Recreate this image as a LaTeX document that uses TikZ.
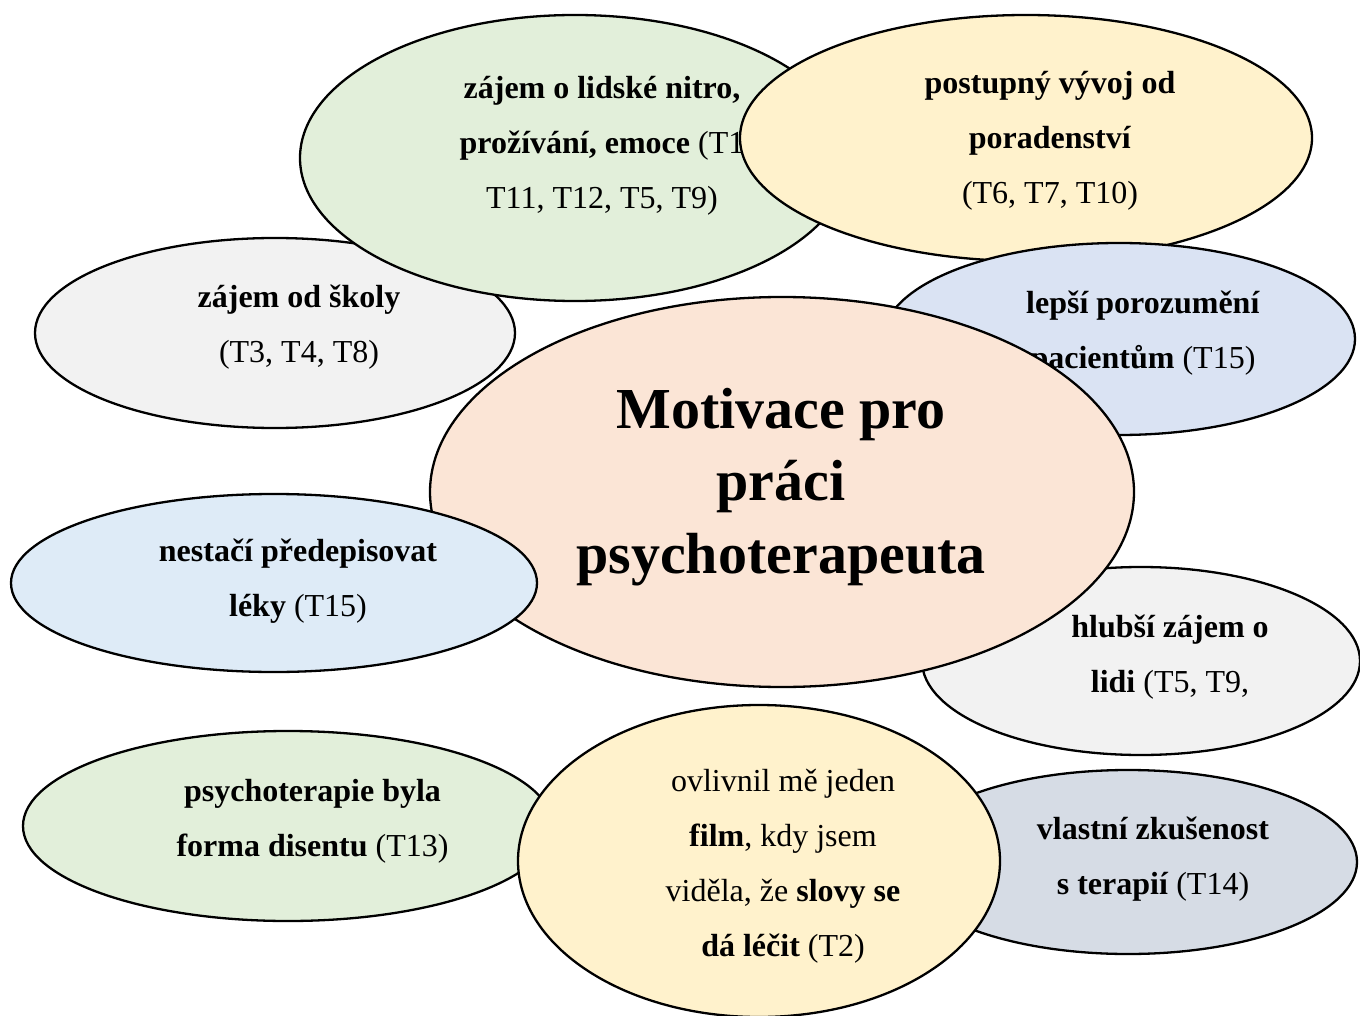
\documentclass[tikz,border=0pt]{standalone}
\usepackage{fontspec}
\setmainfont{Liberation Serif}
\usetikzlibrary{shapes.geometric}
\definecolor{cpeach}{HTML}{FBE5D6}
\definecolor{cgreen}{HTML}{E2EFDA}
\definecolor{cyellow}{HTML}{FFF2CC}
\definecolor{cgray}{HTML}{F2F2F2}
\definecolor{cblue}{HTML}{DEEBF7}
\definecolor{cblueb}{HTML}{DAE3F3}
\definecolor{cslate}{HTML}{D6DCE5}
\tikzset{
  bub/.style={ellipse, draw=black, line width=1.15pt, inner sep=0pt, outer sep=0pt},
  txt/.style={align=center, inner sep=0pt, font=\fontsize{16}{27.5}\selectfont},
  ttl/.style={align=center, inner sep=0pt, font=\fontsize{29}{36.2}\selectfont\bfseries}
}
\begin{document}
\begin{tikzpicture}[x=0.5pt,y=-0.5pt]
\useasboundingbox[fill=white] (0,0) rectangle (1360,1016);
% zajem od skoly
\node[bub, fill=cgray, minimum width=240pt, minimum height=95pt] (e1) at (275,333) {};
\node[txt] (t1) at (299,327.5) {\textbf{zájem od školy}\\(T3, T4, T8)};
% nitro
\node[bub, fill=cgreen, minimum width=275pt, minimum height=143pt] (e2) at (575,158) {};
\node[txt] (t2) at (602,146) {\textbf{zájem o lidské nitro,}\\\textbf{prožívání, emoce} (T1\hspace*{4pt}\\T11, T12, T5, T9)};
% postupny
\node[bub, fill=cyellow, minimum width=286pt, minimum height=123pt] (e3) at (1026,138) {};
\node[txt] (t3) at (1050,141) {\textbf{postupný vývoj od}\\\textbf{poradenství}\\(T6, T7, T10)};
% lepsi
\node[bub, fill=cblueb, minimum width=236pt, minimum height=96pt] (e4) at (1119,339) {};
\node[txt] (t4) at (1143,333.5) {\textbf{lepší porozumění}\\\textbf{pacientům} (T15)};
% hlubsi
\node[bub, fill=cgray, minimum width=219pt, minimum height=94pt] (e5) at (1141,661) {};
\node[txt] (t5) at (1170,657) {\textbf{hlubší zájem o}\\\textbf{lidi} (T5, T9,};
% center
\node[bub, fill=cpeach, minimum width=352pt, minimum height=195pt] (e0) at (782,492) {};
\node[ttl] (t0) at (781,487) {Motivace pro\\práci\\psychoterapeuta};
% nestaci
\node[bub, fill=cblue, minimum width=263pt, minimum height=89pt] (e6) at (274,583) {};
\node[txt] (t6) at (298,581.5) {\textbf{nestačí předepisovat}\\\textbf{léky} (T15)};
% psychoterapie byla
\node[bub, fill=cgreen, minimum width=265pt, minimum height=95pt] (e7) at (288,826) {};
\node[txt] (t7) at (312.5,821.5) {\textbf{psychoterapie byla}\\\textbf{forma disentu} (T13)};
% vlastni
\node[bub, fill=cslate, minimum width=229pt, minimum height=92pt] (e8) at (1128,862) {};
\node[txt] (t8) at (1153,859.5) {\textbf{vlastní zkušenost}\\\textbf{s terapií} (T14)};
% ovlivnil
\node[bub, fill=cyellow, minimum width=241pt, minimum height=156pt] (e9) at (759,861) {};
\node[txt] (t9) at (783,866.5) {ovlivnil mě jeden\\\textbf{film}, kdy jsem\\viděla, že \textbf{slovy se}\\\textbf{dá léčit} (T2)};
\end{tikzpicture}
\end{document}
